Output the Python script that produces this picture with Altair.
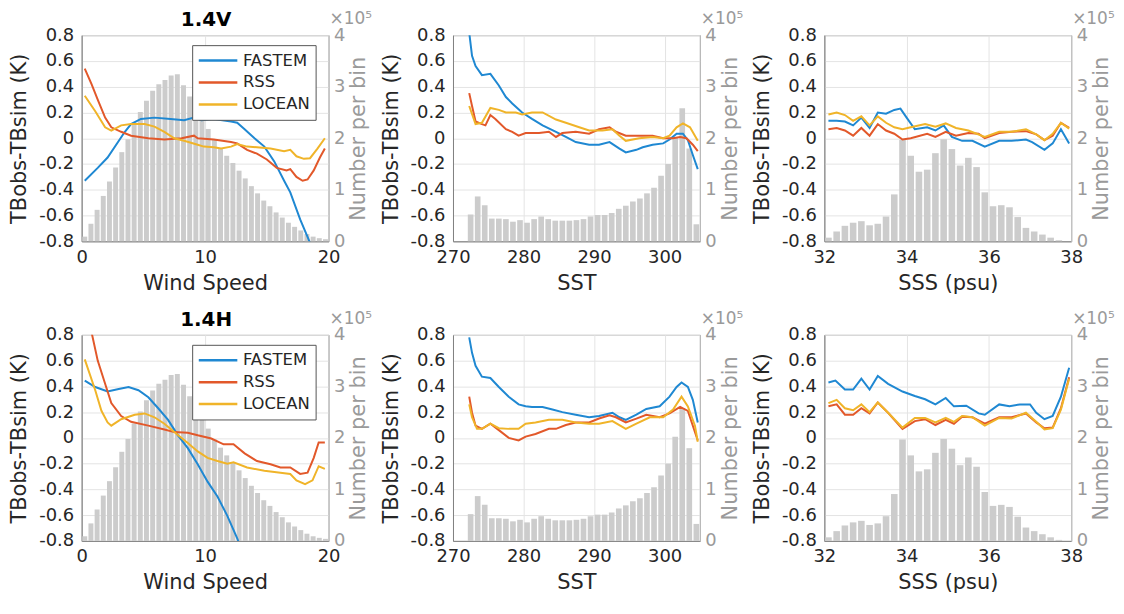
import altair as alt
import pandas as pd

# ---------------- histogram data (counts in units of 1e5) ----------------
WS_CENTERS = [0.25, 0.75, 1.25, 1.75, 2.25, 2.75, 3.25, 3.75, 4.25, 4.75,
              5.25, 5.75, 6.25, 6.75, 7.25, 7.75, 8.25, 8.75, 9.25, 9.75,
              10.25, 10.75, 11.25, 11.75, 12.25, 12.75, 13.25, 13.75, 14.25, 14.75,
              15.25, 15.75, 16.25, 16.75, 17.25, 17.75, 18.25, 18.75, 19.25, 19.75]
WS_COUNTS = [0.09, 0.34, 0.61, 0.88, 1.16, 1.43, 1.73, 1.98, 2.28, 2.51,
             2.73, 2.92, 3.05, 3.13, 3.22, 3.24, 3.03, 2.81, 2.59, 2.37,
             2.18, 1.97, 1.81, 1.66, 1.52, 1.37, 1.22, 1.07, 0.93, 0.79,
             0.68, 0.56, 0.46, 0.36, 0.28, 0.21, 0.14, 0.09, 0.06, 0.04]

SST_CENTERS = [272.5, 273.5, 274.5, 275.5, 276.5, 277.5, 278.5, 279.5, 280.5, 281.5,
               282.5, 283.5, 284.5, 285.5, 286.5, 287.5, 288.5, 289.5, 290.5, 291.5,
               292.5, 293.5, 294.5, 295.5, 296.5, 297.5, 298.5, 299.5, 300.5, 301.5,
               302.5, 303.5, 304.5]
SST_COUNTS = [0.52, 0.87, 0.70, 0.44, 0.44, 0.43, 0.38, 0.41, 0.36, 0.43,
              0.48, 0.43, 0.40, 0.40, 0.40, 0.41, 0.43, 0.48, 0.51, 0.51,
              0.55, 0.63, 0.69, 0.77, 0.83, 0.93, 1.04, 1.27, 1.50, 2.02,
              2.58, 1.80, 0.33]

SSS_CENTERS = [32.1, 32.3, 32.5, 32.7, 32.9, 33.1, 33.3, 33.5, 33.7, 33.9,
               34.1, 34.3, 34.5, 34.7, 34.9, 35.1, 35.3, 35.5, 35.7, 35.9,
               36.1, 36.3, 36.5, 36.7, 36.9, 37.1, 37.3, 37.5, 37.7]
SSS_COUNTS = [0.07, 0.19, 0.30, 0.36, 0.39, 0.31, 0.34, 0.48, 0.91, 1.97,
              1.66, 1.35, 1.39, 1.71, 1.98, 1.79, 1.47, 1.62, 1.44, 0.95,
              0.68, 0.70, 0.66, 0.47, 0.26, 0.19, 0.13, 0.07, 0.02]

# ---------------- TBobs - TBsim curves (x, K) ----------------
V_WS_FASTEM = [(0.25, -0.33), (1.3, -0.23), (2.1, -0.15), (3.5, 0.05), (4.0, 0.11), (4.8, 0.15),
               (5.9, 0.16), (7.2, 0.15), (8.3, 0.14), (9.1, 0.16), (9.7, 0.14), (10.7, 0.15),
               (12.1, 0.13), (12.6, 0.12), (13.2, 0.07), (14.0, 0.0), (14.8, -0.065), (15.6, -0.18),
               (16.4, -0.33), (16.9, -0.42), (17.7, -0.63), (18.4, -0.79), (18.6, -0.84)]
V_WS_RSS = [(0.25, 0.54), (0.8, 0.42), (1.3, 0.30), (1.9, 0.16), (2.4, 0.085), (3.2, 0.05),
            (4.0, 0.02), (5.4, 0.0), (6.7, -0.01), (8.1, 0.0), (9.1, 0.02), (9.4, 0.0),
            (10.7, -0.01), (12.1, -0.03), (12.6, -0.04), (13.4, -0.09), (14.2, -0.12), (15.0, -0.165),
            (15.8, -0.23), (16.6, -0.25), (16.9, -0.24), (17.4, -0.30), (17.9, -0.33), (18.3, -0.32),
            (18.8, -0.25), (19.3, -0.15), (19.7, -0.08)]
V_WS_LOCEAN = [(0.25, 0.33), (1.1, 0.21), (1.9, 0.085), (2.4, 0.06), (3.2, 0.10), (4.0, 0.11),
               (5.1, 0.11), (5.9, 0.09), (6.7, 0.05), (7.5, 0.0), (8.3, -0.02), (9.4, -0.05),
               (9.9, -0.065), (10.7, -0.07), (11.3, -0.08), (12.1, -0.065), (12.6, -0.045), (13.4, -0.065),
               (14.2, -0.07), (15.3, -0.08), (16.4, -0.10), (16.9, -0.09), (17.4, -0.14), (18.0, -0.16),
               (18.5, -0.155), (19.1, -0.08), (19.7, 0.0)]

H_WS_FASTEM = [(0.25, 0.445), (1.1, 0.395), (2.1, 0.36), (3.0, 0.38), (3.8, 0.395), (4.6, 0.37),
               (5.4, 0.315), (6.2, 0.23), (7.0, 0.14), (7.8, 0.02), (8.6, -0.08), (9.4, -0.205),
               (10.2, -0.34), (11.0, -0.455), (11.8, -0.605), (12.6, -0.78), (12.8, -0.83)]
H_WS_RSS = [(0.25, 1.0), (0.8, 0.82), (1.3, 0.6), (1.9, 0.42), (2.4, 0.27), (3.2, 0.17),
            (4.0, 0.125), (5.4, 0.095), (6.7, 0.065), (7.5, 0.045), (8.6, 0.04), (9.4, 0.02),
            (10.5, -0.005), (11.5, -0.05), (12.3, -0.05), (13.2, -0.12), (14.2, -0.18), (15.3, -0.205),
            (16.1, -0.23), (16.9, -0.23), (17.7, -0.28), (18.3, -0.27), (18.8, -0.155), (19.2, -0.035),
            (19.7, -0.035)]
H_WS_LOCEAN = [(0.25, 0.61), (1.1, 0.37), (1.6, 0.21), (2.1, 0.12), (2.4, 0.095), (3.2, 0.145),
               (4.3, 0.18), (5.1, 0.19), (5.9, 0.16), (6.7, 0.11), (7.5, 0.045), (8.6, -0.04),
               (9.4, -0.105), (10.2, -0.155), (11.0, -0.18), (11.8, -0.2), (12.3, -0.19), (13.4, -0.23),
               (14.8, -0.255), (16.1, -0.27), (16.9, -0.28), (17.4, -0.33), (18.1, -0.36), (18.7, -0.33),
               (19.2, -0.22), (19.7, -0.24)]

V_SST_FASTEM = [(272.3, 0.82), (272.7, 0.64), (273.2, 0.56), (274.1, 0.49), (275.3, 0.50), (276.5, 0.41),
                (277.5, 0.32), (278.4, 0.27), (279.8, 0.20), (281.2, 0.15), (282.7, 0.10), (284.6, 0.05),
                (286.0, 0.01), (287.4, -0.03), (289.3, -0.05), (290.7, -0.05), (292.2, -0.03), (293.6, -0.08),
                (294.5, -0.11), (296.0, -0.09), (296.9, -0.07), (298.3, -0.05), (299.8, -0.04), (300.7, -0.01),
                (301.7, 0.035), (302.6, 0.035), (303.3, -0.015), (304.0, -0.13), (304.7, -0.24)]
V_SST_RSS = [(272.3, 0.35), (272.7, 0.25), (273.2, 0.13), (274.1, 0.11), (274.6, 0.10), (275.3, 0.18),
             (276.0, 0.15), (277.5, 0.07), (278.4, 0.05), (279.3, 0.02), (280.3, 0.04), (282.2, 0.04),
             (283.6, 0.05), (284.6, 0.01), (285.5, 0.04), (287.4, 0.05), (289.3, 0.035), (290.7, 0.07),
             (292.2, 0.085), (293.1, 0.05), (294.5, 0.02), (296.9, 0.02), (298.3, 0.02), (299.8, 0.0),
             (301.2, 0.0), (302.2, 0.01), (303.1, 0.0), (304.0, -0.05), (304.7, -0.10)]
V_SST_LOCEAN = [(272.3, 0.25), (273.2, 0.11), (274.1, 0.12), (275.3, 0.235), (276.5, 0.22), (277.5, 0.20),
                (278.9, 0.20), (279.8, 0.185), (281.2, 0.20), (282.7, 0.20), (284.6, 0.145), (286.0, 0.12),
                (287.9, 0.085), (289.3, 0.06), (291.2, 0.06), (292.6, 0.07), (293.6, 0.02), (294.5, -0.02),
                (296.4, 0.0), (298.3, 0.01), (299.8, 0.0), (300.7, 0.02), (301.7, 0.085), (302.6, 0.115),
                (303.6, 0.085), (304.7, -0.02)]

H_SST_FASTEM = [(272.3, 0.78), (272.7, 0.66), (273.2, 0.56), (274.1, 0.475), (275.3, 0.465), (276.5, 0.395),
                (277.9, 0.32), (279.3, 0.26), (280.3, 0.245), (281.2, 0.24), (282.7, 0.24), (284.1, 0.22),
                (285.5, 0.20), (287.4, 0.18), (289.3, 0.16), (290.7, 0.17), (292.6, 0.195), (293.6, 0.16),
                (294.5, 0.14), (296.0, 0.18), (297.4, 0.225), (299.3, 0.245), (300.7, 0.32), (301.7, 0.395),
                (302.4, 0.43), (303.3, 0.395), (304.0, 0.295), (304.7, 0.12)]
H_SST_RSS = [(272.3, 0.32), (272.7, 0.195), (273.2, 0.095), (274.1, 0.07), (275.3, 0.11), (276.5, 0.06),
             (277.9, 0.0), (279.3, -0.02), (280.3, 0.01), (281.7, 0.03), (283.6, 0.07), (284.6, 0.07),
             (286.0, 0.10), (287.4, 0.12), (289.3, 0.12), (290.7, 0.15), (292.2, 0.175), (293.1, 0.16),
             (294.5, 0.12), (296.0, 0.15), (297.4, 0.18), (299.3, 0.16), (300.7, 0.19), (302.2, 0.24),
             (303.3, 0.21), (304.7, -0.02)]
H_SST_LOCEAN = [(272.3, 0.26), (272.7, 0.16), (273.4, 0.07), (274.1, 0.07), (275.3, 0.11), (276.5, 0.075),
                (277.9, 0.07), (279.3, 0.07), (280.3, 0.11), (281.7, 0.12), (283.6, 0.14), (285.5, 0.14),
                (287.4, 0.12), (289.3, 0.11), (290.7, 0.11), (292.6, 0.13), (294.5, 0.07), (296.0, 0.11),
                (297.9, 0.16), (299.8, 0.16), (301.2, 0.22), (302.4, 0.32), (303.3, 0.245), (304.3, 0.095),
                (304.7, -0.03)]

V_SSS_FASTEM = [(32.1, 0.135), (32.3, 0.135), (32.5, 0.13), (32.7, 0.10), (32.9, 0.16), (33.1, 0.08),
                (33.3, 0.20), (33.5, 0.19), (33.7, 0.22), (33.85, 0.23), (34.0, 0.16), (34.2, 0.07),
                (34.5, 0.085), (34.7, 0.06), (34.9, 0.10), (35.1, 0.01), (35.35, -0.02), (35.6, -0.02),
                (35.9, -0.065), (36.25, -0.02), (36.55, -0.02), (36.9, -0.01), (37.05, -0.03), (37.35, -0.09),
                (37.55, -0.04), (37.75, 0.07), (37.95, -0.04)]
V_SSS_RSS = [(32.1, 0.07), (32.3, 0.08), (32.5, 0.06), (32.7, 0.02), (32.9, 0.08), (33.1, 0.02),
             (33.3, 0.11), (33.5, 0.06), (33.7, 0.035), (33.9, -0.01), (34.1, 0.0), (34.5, 0.035),
             (34.7, 0.01), (34.95, 0.05), (35.2, 0.02), (35.5, 0.04), (35.75, 0.035), (35.9, 0.0),
             (36.25, 0.04), (36.55, 0.05), (36.9, 0.055), (37.15, 0.03), (37.35, -0.015), (37.55, 0.02),
             (37.75, 0.12), (37.95, 0.08)]
V_SSS_LOCEAN = [(32.1, 0.185), (32.3, 0.20), (32.5, 0.18), (32.7, 0.135), (32.9, 0.17), (33.1, 0.10),
                (33.3, 0.17), (33.5, 0.12), (33.7, 0.085), (33.9, 0.07), (34.1, 0.085), (34.45, 0.11),
                (34.7, 0.09), (34.95, 0.115), (35.2, 0.08), (35.5, 0.06), (35.9, 0.01), (36.25, 0.05),
                (36.55, 0.05), (36.9, 0.07), (37.15, 0.03), (37.35, -0.015), (37.55, 0.035), (37.75, 0.12),
                (37.95, 0.075)]

H_SSS_FASTEM = [(32.1, 0.43), (32.27, 0.445), (32.5, 0.375), (32.7, 0.375), (32.9, 0.46), (33.1, 0.375),
                (33.3, 0.48), (33.55, 0.42), (33.9, 0.36), (34.2, 0.325), (34.45, 0.30), (34.7, 0.26),
                (34.95, 0.31), (35.15, 0.245), (35.45, 0.25), (35.75, 0.19), (35.9, 0.18), (36.25, 0.26),
                (36.5, 0.245), (36.75, 0.26), (37.0, 0.26), (37.15, 0.195), (37.35, 0.145), (37.55, 0.17),
                (37.75, 0.32), (37.95, 0.545)]
H_SSS_RSS = [(32.1, 0.245), (32.3, 0.26), (32.5, 0.18), (32.7, 0.18), (32.9, 0.23), (33.1, 0.19),
             (33.3, 0.275), (33.55, 0.195), (33.9, 0.07), (34.2, 0.13), (34.45, 0.145), (34.7, 0.10),
             (34.95, 0.14), (35.15, 0.11), (35.35, 0.165), (35.6, 0.16), (35.9, 0.11), (36.25, 0.16),
             (36.55, 0.16), (36.9, 0.19), (37.15, 0.12), (37.35, 0.075), (37.55, 0.08), (37.75, 0.23),
             (37.95, 0.47)]
H_SSS_LOCEAN = [(32.1, 0.27), (32.3, 0.295), (32.5, 0.23), (32.7, 0.215), (32.9, 0.26), (33.1, 0.20),
                (33.3, 0.275), (33.55, 0.195), (33.9, 0.08), (34.2, 0.155), (34.45, 0.155), (34.7, 0.12),
                (34.95, 0.155), (35.15, 0.125), (35.35, 0.17), (35.6, 0.16), (35.9, 0.095), (36.25, 0.155),
                (36.55, 0.15), (36.9, 0.195), (37.15, 0.125), (37.35, 0.065), (37.55, 0.075), (37.75, 0.22),
                (37.95, 0.46)]

MODELS = ["FASTEM", "RSS", "LOCEAN"]
COLORS = ["#1f88d2", "#e2582a", "#f0b429"]
Y_TICKS = [-0.8, -0.6, -0.4, -0.2, 0, 0.2, 0.4, 0.6, 0.8]
N_TICKS = [0, 1, 2, 3, 4]

W, H = 248, 207
FONT = "DejaVu Sans"
DARK = "#262626"
GREY = "#9a9a9a"


def hist_df(centers, counts, binw):
    return pd.DataFrame({
        "x0": [c - 0.4 * binw for c in centers],
        "x1": [c + 0.4 * binw for c in centers],
        "n": counts,
    })


def line_df(fastem, rss, locean):
    rows = []
    for name, pts in zip(MODELS, [fastem, rss, locean]):
        for i, (x, y) in enumerate(pts):
            rows.append({"model": name, "x": x, "y": y, "i": i})
    return pd.DataFrame(rows)


def panel(hist, lines, dom, ticks, xtitle, title=None, legend=False):
    xs = alt.Scale(domain=dom, nice=False, zero=False)
    xaxis = alt.Axis(values=ticks, title=xtitle, grid=True, gridColor="#e4e4e4",
                     domainColor="#808080", ticks=False, labelPadding=7, labelFlush=False,
                     labelFontSize=18, titleFontSize=21, labelColor=DARK,
                     titleColor=DARK, titlePadding=6, titleFontWeight="normal",
                     labelFont=FONT, titleFont=FONT)
    bars = alt.Chart(hist).mark_bar(color="#cccccc").encode(
        x=alt.X("x0:Q", scale=xs, axis=xaxis),
        x2="x1:Q",
        y=alt.Y("n:Q", scale=alt.Scale(domain=[0, 4], nice=False),
                axis=alt.Axis(orient="right", values=N_TICKS, title="Number per bin",
                              grid=False, ticks=False, labelPadding=5, labelFlush=False,
                              labelColor=GREY, titleColor=GREY, domainColor="#bdbdbd",
                              labelFontSize=18, titleFontSize=21, titleAngle=270,
                              titleBaseline="top", titlePadding=3,
                              titleFontWeight="normal", labelFont=FONT, titleFont=FONT)),
        y2=alt.datum(0),
    )
    if legend:
        leg = alt.Legend(title=None, orient="none", legendX=W - 137, legendY=10,
                         fillColor="white", strokeColor="#555555", padding=5,
                         symbolType="stroke", symbolSize=1500, symbolStrokeWidth=2.5,
                         clipHeight=21, rowPadding=1,
                         labelFontSize=16.5, labelColor=DARK, labelFont=FONT,
                         labelOffset=4)
    else:
        leg = None
    lns = alt.Chart(lines).mark_line(strokeWidth=2, clip=True).encode(
        x=alt.X("x:Q", scale=xs, axis=xaxis),
        y=alt.Y("y:Q", scale=alt.Scale(domain=[-0.8, 0.8], nice=False),
                axis=alt.Axis(orient="left", values=Y_TICKS, title="TBobs-TBsim (K)",
                              labelExpr="'' + datum.value", grid=True, gridColor="#e4e4e4",
                              ticks=False, labelPadding=8, labelFlush=False,
                              domainColor="#808080",
                              labelColor=DARK, titleColor=DARK, labelFontSize=18,
                              titleFontSize=21, titlePadding=9, titleFontWeight="normal",
                              labelFont=FONT, titleFont=FONT)),
        color=alt.Color("model:N", scale=alt.Scale(domain=MODELS, range=COLORS),
                        legend=leg),
        order="i:Q",
    )
    expo = alt.Chart(pd.DataFrame({"t": ["×10⁵"]})).mark_text(
        align="left", baseline="alphabetic", fontSize=17, color=GREY, font=FONT
    ).encode(text="t:N", x=alt.value(W + 1), y=alt.value(-11))
    layers = [bars, lns, expo]
    if title:
        ttl = alt.Chart(pd.DataFrame({"t": [title]})).mark_text(
            align="center", baseline="alphabetic", fontSize=20, fontWeight="bold",
            color="#000000", font=FONT
        ).encode(text="t:N", x=alt.value(W / 2 + 1), y=alt.value(-9))
        layers.append(ttl)
    return alt.layer(*layers).resolve_scale(y="independent").properties(width=W, height=H)


ws_h = hist_df(WS_CENTERS, WS_COUNTS, 0.5)
sst_h = hist_df(SST_CENTERS, SST_COUNTS, 1.0)
sss_h = hist_df(SSS_CENTERS, SSS_COUNTS, 0.2)

panels = [
    panel(ws_h, line_df(V_WS_FASTEM, V_WS_RSS, V_WS_LOCEAN), [0, 20], [0, 10, 20],
          "Wind Speed", title="1.4V", legend=True),
    panel(sst_h, line_df(V_SST_FASTEM, V_SST_RSS, V_SST_LOCEAN), [270, 305], [270, 280, 290, 300], "SST"),
    panel(sss_h, line_df(V_SSS_FASTEM, V_SSS_RSS, V_SSS_LOCEAN), [32, 38], [32, 34, 36, 38], "SSS (psu)"),
    panel(ws_h, line_df(H_WS_FASTEM, H_WS_RSS, H_WS_LOCEAN), [0, 20], [0, 10, 20],
          "Wind Speed", title="1.4H", legend=True),
    panel(sst_h, line_df(H_SST_FASTEM, H_SST_RSS, H_SST_LOCEAN), [270, 305], [270, 280, 290, 300], "SST"),
    panel(sss_h, line_df(H_SSS_FASTEM, H_SSS_RSS, H_SSS_LOCEAN), [32, 38], [32, 34, 36, 38], "SSS (psu)"),
]

chart = alt.concat(
    *panels, columns=3, spacing=alt.RowColnumber(row=94, column=125), bounds="flush"
).resolve_scale(color="independent").resolve_legend(color="independent").properties(
    padding=0, background="white"
).configure(font=FONT).configure_view(stroke="#8a8a8a", strokeWidth=1)

chart.save("out.html", embed_options={"renderer": "svg", "actions": False})
